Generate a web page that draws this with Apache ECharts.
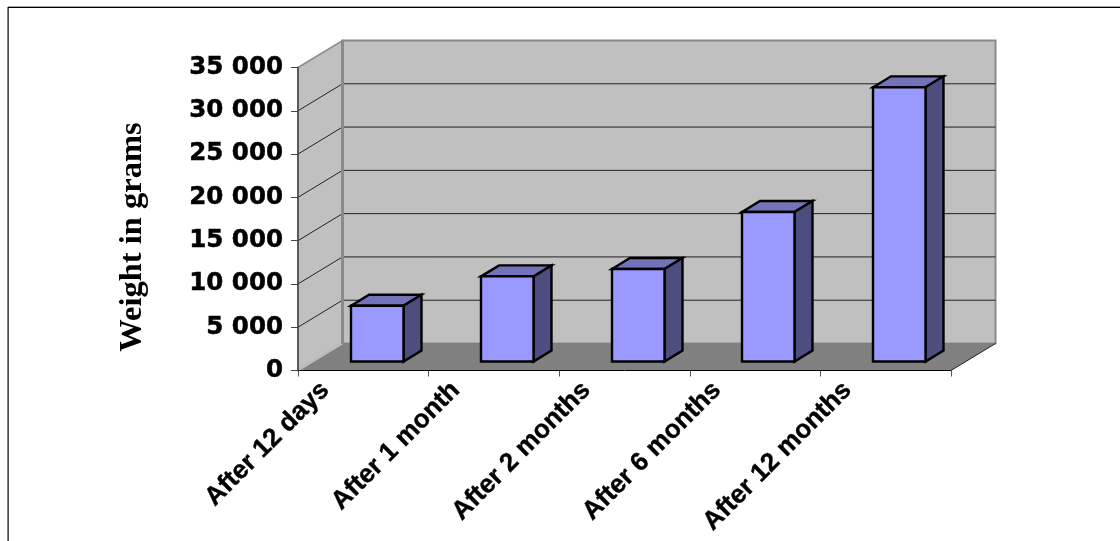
<!DOCTYPE html>
<html><head><meta charset="utf-8">
<style>html,body{margin:0;padding:0;background:#fff}#c{width:1120px;height:541px}</style>
<script src="https://cdn.jsdelivr.net/npm/echarts@6/dist/echarts.min.js"></script>
</head><body><div id="c"></div>
<script>
const categories = ['After 12 days','After 1 month','After 2 months','After 6 months','After 12 months'];
const weights = [6440, 9830, 10680, 17270, 31670];
const yTicks = [0,5000,10000,15000,20000,25000,30000,35000];
const axisName = 'Weight in grams';
const yMax = 35000, yStep = 5000;

const wallDX = 44.5, wallDY = -27;
const barW = 52.5, barDX = 18, barDY = -11, barShiftX = 13.5, barShiftY = -9;

const chart = echarts.init(document.getElementById('c'), null, {renderer:'canvas'});

function renderWalls(params, api){
  const p00 = api.coord([0, 0]);
  const bandW = api.size([1, 0])[0];
  const x0 = p00[0] - bandW/2, y0 = p00[1];
  const x1 = x0 + bandW*categories.length;
  const yT = api.coord([0, yMax])[1];
  const ch = [];
  ch.push({type:'polygon',shape:{points:[[x0,y0],[x0,yT],[x0+wallDX,yT+wallDY],[x0+wallDX,y0+wallDY]]},style:{fill:'#c0c0c0',stroke:'#8a8a8a',lineWidth:1.5}});
  ch.push({type:'polygon',shape:{points:[[x0+wallDX,yT+wallDY],[x1+wallDX,yT+wallDY],[x1+wallDX,y0+wallDY],[x0+wallDX,y0+wallDY]]},style:{fill:'#c0c0c0',stroke:'#8a8a8a',lineWidth:2}});
  ch.push({type:'polygon',shape:{points:[[x0,y0],[x1,y0],[x1+wallDX,y0+wallDY],[x0+wallDX,y0+wallDY]]},style:{fill:'#808080'}});
  yTicks.slice(1,-1).forEach(v=>{
    const y = api.coord([0,v])[1];
    ch.push({type:'polyline',shape:{points:[[x0,y],[x0+wallDX,y+wallDY],[x1+wallDX,y+wallDY]]},style:{fill:null,stroke:'#222',lineWidth:1}});
  });
  ch.push({type:'line',shape:{x1:x0,y1:y0,x2:x0+wallDX,y2:y0+wallDY},style:{stroke:'#c0c0c0',lineWidth:1.5}});
  ch.push({type:'line',shape:{x1:x0+wallDX,y1:y0+wallDY,x2:x0+wallDX,y2:yT+wallDY},style:{stroke:'#8a8a8a',lineWidth:3}});
  ch.push({type:'line',shape:{x1:x0+wallDX,y1:y0+wallDY,x2:x1+wallDX,y2:y0+wallDY},style:{stroke:'#808080',lineWidth:1}});
  ch.push({type:'line',shape:{x1:x1,y1:y0,x2:x1+wallDX,y2:y0+wallDY},style:{stroke:'#222',lineWidth:1}});
  return {type:'group',children:ch};
}
function renderBar(params, api){
  const base = api.coord([api.value(0), 0]);
  const top = api.coord([api.value(0), api.value(1)]);
  const cx = base[0] + barShiftX;
  const xl = Math.round(cx - barW/2), xr = xl + barW;
  const yb = base[1] + barShiftY, yt = top[1] + barShiftY;
  const stroke = {stroke:'#000',lineWidth:2.4,lineJoin:'miter'};
  return {type:'group',children:[
    {type:'polygon',shape:{points:[[xl,yt],[xr,yt],[xr+barDX,yt+barDY],[xl+barDX,yt+barDY]]},style:Object.assign({fill:'#7373ba'},stroke)},
    {type:'polygon',shape:{points:[[xr,yt],[xr+barDX,yt+barDY],[xr+barDX,yb+barDY],[xr,yb]]},style:Object.assign({fill:'#4d4d7f'},stroke)},
    {type:'rect',shape:{x:xl,y:yt,width:barW,height:yb-yt},style:Object.assign({fill:'#9999ff'},stroke)}
  ]};
}

chart.setOption({
  animation:false,
  backgroundColor:'#fff',
  graphic:[
    {type:'rect',shape:{x:8,y:6,width:1112,height:1},style:{fill:'#a8a8a8'},silent:true},
    {type:'rect',shape:{x:8,y:7,width:1112,height:1},style:{fill:'#000'},silent:true},
    {type:'rect',shape:{x:7.5,y:7,width:1.2,height:534},style:{fill:'#000'},silent:true}
  ],
  grid:{left:298,top:67.5,width:653,height:303,containLabel:false},
  xAxis:{type:'category',data:categories,z:5,
    axisLine:{show:true,lineStyle:{color:'#000',width:1}},
    axisTick:{show:true,alignWithLabel:false,length:6,lineStyle:{color:'#555',width:1}},
    axisLabel:{rotate:45,interval:0,margin:10,align:'right',verticalAlign:'bottom',
      fontFamily:'Liberation Sans',fontWeight:'bold',fontSize:26,color:'#000',padding:[0,31,10,0],
      textBorderColor:'#000',textBorderWidth:0.4}},
  yAxis:{type:'value',min:0,max:yMax,interval:yStep,z:5,
    name:axisName,nameLocation:'middle',nameGap:149,nameRotate:90,
    nameTextStyle:{fontFamily:'Liberation Serif',fontWeight:'bold',fontSize:32.5,color:'#000',padding:[0,36,0,0]},
    splitLine:{show:false},
    axisLine:{show:true,lineStyle:{color:'#444',width:1.5}},
    axisTick:{show:true,length:7,lineStyle:{color:'#444',width:1}},
    axisLabel:{margin:15,fontFamily:'DejaVu Sans',fontWeight:'bold',fontSize:24.5,color:'#000',
      textBorderColor:'#000',textBorderWidth:0.5,
      formatter:v=>String(v).replace(/\B(?=(\d{3})+$)/g,' ')}},
  series:[
    {type:'custom',name:'walls',z:1,silent:true,renderItem:renderWalls,data:[[0,0]],encode:{x:0,y:1},clip:false},
    {type:'custom',name:'Weight',z:3,renderItem:renderBar,clip:false,encode:{x:0,y:1},
      data:weights.map((w,i)=>[i,w])}
  ]
});
</script></body></html>
